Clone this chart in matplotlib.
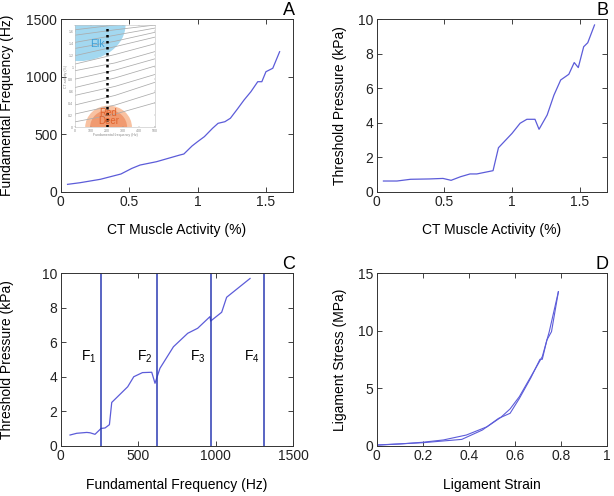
import matplotlib
matplotlib.use("Agg")
import matplotlib.pyplot as plt
from matplotlib.patches import Ellipse
from matplotlib.ticker import FormatStrFormatter

plt.rcParams["font.family"] = ["Liberation Sans", "DejaVu Sans"]
plt.rcParams["mathtext.default"] = "regular"

# ---- data ----
# A: fundamental frequency vs CT activity
act_a = [0.05, 0.14, 0.29, 0.44, 0.52, 0.58, 0.70, 0.87, 0.90, 0.96, 1.00, 1.05,
         1.11, 1.15, 1.20, 1.24, 1.29, 1.34, 1.39, 1.44, 1.47, 1.50, 1.55, 1.60]
f0_a = [64, 78, 108, 154, 203, 232, 261, 319, 328, 398, 435, 479,
        552, 595, 609, 639, 717, 798, 870, 957, 957, 1044, 1074, 1218]

# B: threshold pressure vs CT activity
act_b = [0.05, 0.15, 0.25, 0.39, 0.49, 0.55, 0.62, 0.69, 0.74, 0.86, 0.90, 1.00,
         1.06, 1.11, 1.17, 1.20, 1.26, 1.31, 1.36, 1.42, 1.46, 1.49, 1.53, 1.56, 1.61]
p_b = [0.62, 0.62, 0.72, 0.74, 0.77, 0.66, 0.87, 1.03, 1.03, 1.22, 2.55, 3.38,
       3.97, 4.20, 4.20, 3.62, 4.45, 5.60, 6.48, 6.81, 7.49, 7.20, 8.41, 8.64, 9.67]

# C: threshold pressure vs fundamental frequency, with formant lines
f0_c = [60, 103, 168, 189, 221, 260, 286, 314, 329, 432, 471, 527, 587, 608,
        640, 727, 819, 883, 963, 967, 1038, 1070, 1221]
p_c = [0.62, 0.72, 0.77, 0.75, 0.66, 1.00, 1.03, 1.22, 2.51, 3.42, 4.00, 4.24,
       4.26, 3.62, 4.49, 5.74, 6.52, 6.81, 7.49, 7.23, 7.74, 8.61, 9.70]
formants = [260, 623, 966, 1311]
formant_labels = ["F$_1$", "F$_2$", "F$_3$", "F$_4$"]

# D: ligament stress-strain (loading / unloading)
strain_up = [0, 0.10, 0.20, 0.29, 0.39, 0.48, 0.54, 0.58, 0.62, 0.67, 0.72, 0.75, 0.79]
stress_up = [0.05, 0.15, 0.30, 0.50, 0.93, 1.65, 2.47, 3.20, 4.26, 6.00, 7.75, 9.90, 13.4]
strain_lo = [0, 0.20, 0.37, 0.46, 0.53, 0.58, 0.62, 0.67, 0.71, 0.72, 0.74, 0.76, 0.79]
stress_lo = [0.06, 0.26, 0.55, 1.37, 2.38, 2.82, 4.10, 5.90, 7.52, 7.52, 9.20, 9.92, 13.4]

# inset (small reproduced contour chart)
inset_x = [0, 250, 500]
inset_levels = [
    [1.62, 1.70, 1.78], [1.53, 1.62, 1.70], [1.41, 1.53, 1.65], [1.31, 1.43, 1.58],
    [1.19, 1.34, 1.50], [1.05, 1.21, 1.39], [0.94, 1.07, 1.26], [0.80, 0.95, 1.14],
    [0.66, 0.82, 1.02], [0.53, 0.68, 0.88], [0.37, 0.53, 0.75], [0.22, 0.37, 0.58],
    [0.09, 0.22, 0.41],
]

LINE = "#5c5cd9"
VLINE = "#2b3bb3"

fig = plt.figure(figsize=(6.14, 4.96), dpi=100)
axA = fig.add_axes([0.0989, 0.6135, 0.3788, 0.3476])
axB = fig.add_axes([0.6135, 0.6135, 0.3746, 0.3476])
axC = fig.add_axes([0.0989, 0.1014, 0.3788, 0.3476])
axD = fig.add_axes([0.6135, 0.1014, 0.3746, 0.3476])


def style(ax, letter, xlab, ylab, ylab_x, xlab_y):
    ax.tick_params(direction="in", top=True, right=True, length=3.5,
                   width=0.6, labelsize=10, pad=2.5, colors="#222222")
    for s in ax.spines.values():
        s.set_linewidth(0.7)
        s.set_color("#333333")
    ax.set_xlabel(xlab, fontsize=10)
    ax.set_ylabel(ylab, fontsize=10)
    ax.yaxis.set_label_coords(ylab_x, 0.5)
    ax.xaxis.set_label_coords(0.5, xlab_y)
    ax.text(1.007, 1.0, letter, transform=ax.transAxes, ha="right",
            va="bottom", fontsize=13)


# A
axA.plot(act_a, f0_a, color=LINE, lw=0.9)
axA.set_xlim(0, 1.7)
axA.set_ylim(0, 1500)
axA.set_xticks([0, 0.5, 1, 1.5])
axA.set_yticks([0, 500, 1000, 1500])
axA.xaxis.set_major_formatter(FormatStrFormatter("%g"))
style(axA, "A", "CT Muscle Activity (%)", "Fundamental Frequency (Hz)", -0.2, -0.18)

# B
axB.plot(act_b, p_b, color=LINE, lw=0.9)
axB.set_xlim(0, 1.7)
axB.set_ylim(0, 10)
axB.set_xticks([0, 0.5, 1, 1.5])
axB.set_yticks([0, 2, 4, 6, 8, 10])
axB.xaxis.set_major_formatter(FormatStrFormatter("%g"))
style(axB, "B", "CT Muscle Activity (%)", "Threshold Pressure (kPa)", -0.13, -0.18)

# C
axC.plot(f0_c, p_c, color=LINE, lw=0.9)
for fx, lab in zip(formants, formant_labels):
    axC.axvline(fx, color=VLINE, lw=1.1)
    axC.text(fx - 30, 5.15, lab, ha="right", va="center", fontsize=10)
axC.set_xlim(0, 1500)
axC.set_ylim(0, 10)
axC.set_xticks([0, 500, 1000, 1500])
axC.set_yticks([0, 2, 4, 6, 8, 10])
style(axC, "C", "Fundamental Frequency (Hz)", "Threshold Pressure (kPa)", -0.2, -0.19)

# D
axD.plot(strain_up, stress_up, color=LINE, lw=0.8)
axD.plot(strain_lo, stress_lo, color=LINE, lw=0.8)
axD.set_xlim(0, 1)
axD.set_ylim(0, 15)
axD.set_xticks([0, 0.2, 0.4, 0.6, 0.8, 1])
axD.set_yticks([0, 5, 10, 15])
axD.xaxis.set_major_formatter(FormatStrFormatter("%g"))
style(axD, "D", "Ligament Strain", "Ligament Stress (MPa)", -0.13, -0.19)

# inset in A
ins = fig.add_axes([0.1217, 0.7433, 0.1313, 0.2063])
ins.set_xlim(0, 500)
ins.set_ylim(0, 1.7)
ins.add_patch(Ellipse((25, 1.7), 580, 1.2, color="#a3d8f0", lw=0, zorder=1))
ins.add_patch(Ellipse((210, 0.0), 290, 0.72, color="#f8c2a2", lw=0, zorder=1))
ins.add_patch(Ellipse((210, 0.0), 230, 0.58, color="#f09a70", lw=0, zorder=1))
for lev in inset_levels:
    ins.plot(inset_x, lev, color="#ababab", lw=0.55, zorder=2)
ins.axvline(200, color="black", lw=1.8, ls=(0, (1, 1.4)), zorder=3)
ins.text(140, 1.38, "Elk", color="#3d9fd6", fontsize=7.5, ha="center",
         va="center", zorder=4)
ins.text(210, 0.17, "Red\nDeer", color="#e0622c", fontsize=7, ha="center",
         va="center", linespacing=0.85, zorder=4)
ins.set_xticks([0, 100, 200, 300, 400, 500])
ins.set_yticks([0, 0.2, 0.4, 0.6, 0.8, 1, 1.2, 1.4, 1.6])
ins.yaxis.set_major_formatter(FormatStrFormatter("%g"))
ins.tick_params(direction="in", length=1, width=0.3, labelsize=2.5, pad=1,
                colors="#888888", top=True, right=True)
ins.set_xlabel("Fundamental frequency (Hz)", fontsize=2.5, color="#888888", labelpad=0.5)
ins.set_ylabel("CT activity (%)", fontsize=2.5, color="#888888", labelpad=0.5)
for s in ins.spines.values():
    s.set_linewidth(0.4)
    s.set_color("#c0c0c0")

fig.savefig("out.png", dpi=100)
